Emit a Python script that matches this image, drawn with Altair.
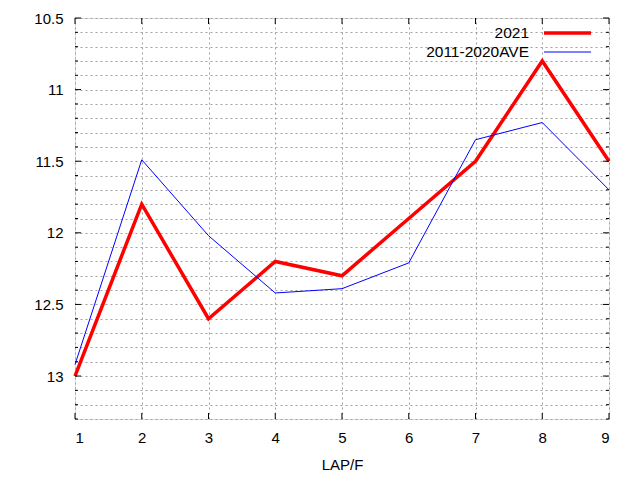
import altair as alt
import pandas as pd

laps = [1, 2, 3, 4, 5, 6, 7, 8, 9]
y2021 = [13.0, 11.8, 12.6, 12.2, 12.3, 11.9, 11.5, 10.8, 11.5]
yave = [12.92, 11.49, 12.02, 12.42, 12.39, 12.21, 11.35, 11.23, 11.70]
series = ["2021", "2011-2020AVE"]
colors = ["#ff0000", "#0000ff"]

y_major = [10.5, 11.0, 11.5, 12.0, 12.5, 13.0]
y_minor = [10.6, 10.7, 10.8, 10.9, 11.1, 11.2, 11.3, 11.4, 11.6, 11.7, 11.8, 11.9,
           12.1, 12.2, 12.3, 12.4, 12.6, 12.7, 12.8, 12.9, 13.1, 13.2, 13.3]
y_all = sorted(y_major + y_minor)

W, H = 534, 401
FONT = "Liberation Sans"

xs = alt.Scale(domain=[1, 9], nice=False, zero=False)
ys = alt.Scale(domain=[10.5, 13.3], reverse=True, nice=False, zero=False)

df_red = pd.DataFrame({"lap": laps, "time": y2021})
df_blue = pd.DataFrame({"lap": laps, "time": yave})

x_axis = alt.Axis(values=laps, format="d", grid=True, gridDash=[2, 3], gridColor="#a0a0a0",
                  gridWidth=1, ticks=False, domain=False, labelFontSize=15, labelPadding=11,
                  labelColor="#000000", title="LAP/F", titleFontWeight="normal", titleFontSize=15,
                  titlePadding=12, titleColor="#000000", labelFont=FONT, titleFont=FONT,
                  tickCount=100)
y_axis = alt.Axis(values=y_all, grid=True, gridDash=[2, 3], gridColor="#a0a0a0", gridWidth=1,
                  ticks=False, domain=False, labelFontSize=15, labelPadding=12,
                  labelColor="#000000", labelOverlap=False, labelFont=FONT, tickCount=100,
                  labelExpr="abs(datum.value*2 - round(datum.value*2)) < 0.01 ? format(datum.value, '~f') : ''",
                  title=None)

red = alt.Chart(df_red).mark_line(color=colors[0], strokeWidth=3.5).encode(
    x=alt.X("lap:Q", scale=xs, axis=x_axis),
    y=alt.Y("time:Q", scale=ys, axis=y_axis),
)
blue = alt.Chart(df_blue).mark_line(color=colors[1], strokeWidth=1).encode(
    x=alt.X("lap:Q", scale=xs),
    y=alt.Y("time:Q", scale=ys),
)

df_ymaj = pd.DataFrame({"time": y_major})
df_ymin = pd.DataFrame({"time": y_minor})
df_x = pd.DataFrame({"lap": laps})

def yticks(df, L):
    left = alt.Chart(df).mark_rule(color="black", strokeWidth=1).encode(
        y=alt.Y("time:Q", scale=ys), x=alt.value(0), x2=alt.value(L))
    right = alt.Chart(df).mark_rule(color="black", strokeWidth=1).encode(
        y=alt.Y("time:Q", scale=ys), x=alt.value(W - L), x2=alt.value(W))
    return [left, right]

xt_bottom = alt.Chart(df_x).mark_rule(color="black", strokeWidth=1).encode(
    x=alt.X("lap:Q", scale=xs), y=alt.value(H - 6), y2=alt.value(H))
xt_top = alt.Chart(df_x).mark_rule(color="black", strokeWidth=1).encode(
    x=alt.X("lap:Q", scale=xs), y=alt.value(0), y2=alt.value(6))

leg_df1 = pd.DataFrame({"label": [series[0]]})
leg_df2 = pd.DataFrame({"label": [series[1]]})
leg_t1 = alt.Chart(leg_df1).mark_text(align="right", baseline="middle", fontSize=15.5, font=FONT,
                                      color="black").encode(
    text="label:N", x=alt.value(454), y=alt.value(15))
leg_t2 = alt.Chart(leg_df2).mark_text(align="right", baseline="middle", fontSize=15.5, font=FONT,
                                      color="black").encode(
    text="label:N", x=alt.value(454), y=alt.value(34))
leg_l1 = alt.Chart(leg_df1).mark_rule(color=colors[0], strokeWidth=3.5).encode(
    x=alt.value(469), x2=alt.value(516), y=alt.value(15))
leg_l2 = alt.Chart(leg_df2).mark_rule(color=colors[1], strokeWidth=1).encode(
    x=alt.value(469), x2=alt.value(516), y=alt.value(34))

layers = [red, blue] + yticks(df_ymaj, 6) + yticks(df_ymin, 3) + [xt_bottom, xt_top,
          leg_t1, leg_t2, leg_l1, leg_l2]

chart = alt.layer(*layers).properties(
    width=W, height=H,
    autosize=alt.AutoSizeParams(type="none"),
    padding={"left": 67, "top": 10, "right": 20, "bottom": 60},
).configure_view(stroke="black", strokeWidth=1).configure(font=FONT)

chart.save("out.html", embed_options={"renderer": "svg", "actions": False})
